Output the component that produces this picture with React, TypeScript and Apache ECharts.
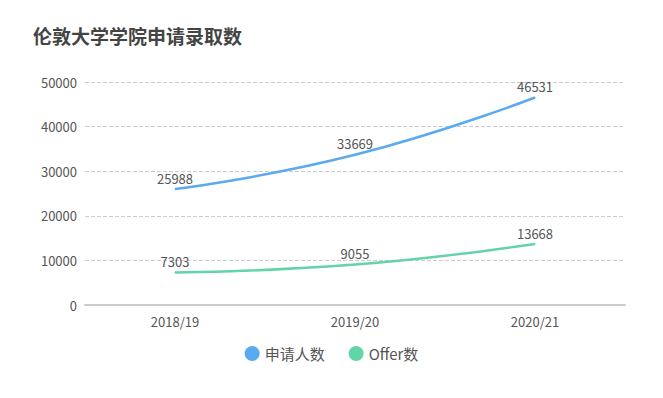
import React, { useEffect, useRef } from "react";
import * as echarts from "echarts";

const categories = ["2018/19", "2019/20", "2020/21"];
const applicants = [25988, 33669, 46531];
const offers = [7303, 9055, 13668];
const seriesNames = ["申请人数", "Offer数"];
const titleText = "伦敦大学学院申请录取数";

export default function App() {
  const ref = useRef<HTMLDivElement>(null);
  useEffect(() => {
    const chart = echarts.init(ref.current!, undefined, { renderer: "svg" });
    const font = "'Noto Sans CJK SC', 'Noto Sans', sans-serif";
    const lbl = { show: true, position: "top", color: "#555", fontSize: 13, fontFamily: font, distance: 4 };
    chart.setOption({
      animation: false,
      title: {
        text: titleText,
        left: 20,
        top: 13,
        textStyle: { fontSize: 19, fontWeight: "bold", color: "#444", fontFamily: font },
      },
      legend: {
        bottom: 24,
        left: "center",
        icon: "circle",
        itemWidth: 15,
        itemHeight: 15,
        itemGap: 24,
        textStyle: { fontSize: 15, color: "#555", fontFamily: font },
        data: seriesNames,
      },
      grid: { left: 77, right: 30, top: 74, bottom: 85 },
      xAxis: {
        type: "category",
        data: categories,
        axisLine: { lineStyle: { color: "#ccc", width: 2 } },
        axisTick: { alignWithLabel: true, lineStyle: { color: "#ccc" } },
        axisLabel: { color: "#555", fontSize: 13, margin: 10, fontFamily: font },
      },
      yAxis: {
        type: "value",
        min: 0,
        max: 50000,
        interval: 10000,
        axisLine: { show: false },
        axisTick: { show: false },
        axisLabel: { color: "#555", fontSize: 13, margin: 8, fontFamily: font, formatter: (v: number) => String(v) },
        splitLine: { lineStyle: { type: "dashed", color: "#ccc" } },
      },
      series: [
        {
          name: seriesNames[0],
          type: "line",
          smooth: true,
          data: applicants,
          showSymbol: true,
          symbol: "circle",
          symbolSize: 1,
          itemStyle: { color: "#5aaaf0" },
          lineStyle: { width: 2.5, color: "#5aaaf0" },
          label: lbl,
        },
        {
          name: seriesNames[1],
          type: "line",
          smooth: true,
          data: offers,
          showSymbol: true,
          symbol: "circle",
          symbolSize: 1,
          itemStyle: { color: "#62d4a8" },
          lineStyle: { width: 2.5, color: "#62d4a8" },
          label: lbl,
        },
      ],
    });
    return () => chart.dispose();
  }, []);
  return <div ref={ref} style={{ width: 647, height: 382 }} />;
}
